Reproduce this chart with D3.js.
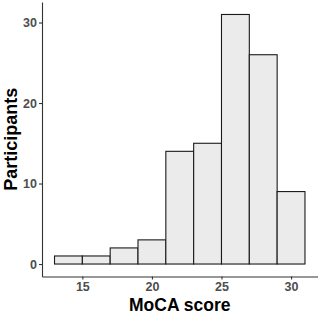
<!DOCTYPE html>
<html><head><meta charset="utf-8">
<script src="https://cdn.jsdelivr.net/npm/d3@7"></script>
<style>body{margin:0;background:#fff}svg{display:block}</style>
</head><body>
<script>
const binStarts = [13, 15, 17, 19, 21, 23, 25, 27, 29];
const binWidth = 2;
const counts = [1, 1, 2, 3, 14, 15, 31, 26, 9];
const xTicks = [15, 20, 25, 30];
const yTicks = [0, 10, 20, 30];

const W = 320, H = 313;
const svg = d3.select("body").append("svg").attr("width", W).attr("height", H);
const L = 42, R = 317.5, T = 2, B = 276.5;
const x = d3.scaleLinear().domain([12.1, 31.9]).range([L, R]);
const y = d3.scaleLinear().domain([-1.55, 32.55]).range([B, T]);

svg.append("g").selectAll("rect").data(binStarts).join("rect")
  .attr("x", (d) => x(d))
  .attr("width", (d) => x(d + binWidth) - x(d))
  .attr("y", (d, i) => y(counts[i]))
  .attr("height", (d, i) => y(0) - y(counts[i]))
  .attr("fill", "#ebebeb").attr("stroke", "#1a1a1a").attr("stroke-width", 1.1);

const font = "'Liberation Sans', Arial, sans-serif";
const xa = svg.append("g").attr("transform", `translate(0,${B})`)
  .call(d3.axisBottom(x).tickValues(xTicks).tickSize(3).tickPadding(2.5).tickSizeOuter(0));
const ya = svg.append("g").attr("transform", `translate(${L},0)`)
  .call(d3.axisLeft(y).tickValues(yTicks).tickSize(3).tickPadding(2).tickSizeOuter(0));
[xa, ya].forEach(a => {
  a.select(".domain").attr("stroke", "#333").attr("stroke-width", 1.1);
  a.selectAll(".tick line").attr("stroke", "#333").attr("stroke-width", 1.1);
  a.selectAll("text").attr("font-family", font).attr("font-weight", "bold")
    .attr("font-size", 12.5).attr("fill", "#4d4d4d");
});

svg.append("text").attr("x", (L + R) / 2).attr("y", 310.5)
  .attr("text-anchor", "middle").attr("font-family", font).attr("font-weight", "bold")
  .attr("font-size", 17.5).attr("fill", "#000").text("MoCA score");
svg.append("text").attr("transform", `translate(16.5,${(T + B) / 2}) rotate(-90)`)
  .attr("text-anchor", "middle").attr("font-family", font).attr("font-weight", "bold")
  .attr("font-size", 18).attr("fill", "#000").text("Participants");
</script>
</body></html>
